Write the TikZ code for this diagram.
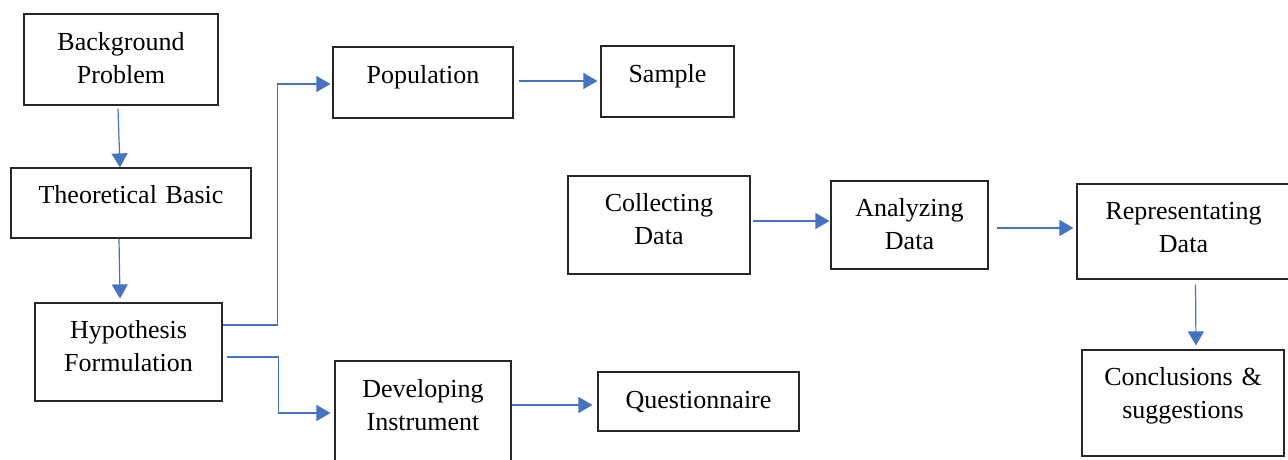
\documentclass[tikz,border=0pt]{standalone}
\usepackage{fontspec}
\setmainfont{Liberation Serif}
\usepackage{tikz}
\usetikzlibrary{arrows.meta}
\definecolor{flowblue}{HTML}{4472C4}
\definecolor{boxgray}{HTML}{262626}

\begin{document}
\begin{tikzpicture}[
    x=1pt, y=-1pt,
    block/.style={draw=boxgray, line width=1.2pt, inner sep=0pt, anchor=base, align=center, font=\fontsize{26}{33}\selectfont},
    arrow/.style={-{Triangle[length=14pt, width=16pt]}, draw=flowblue, line width=1.2pt}
]
    \useasboundingbox (0,0) rectangle (1288,459);

    % left column
    \node[block, text width=194pt, text height=36pt, text depth=55pt] (bg) at (121,50) {Background\\Problem};
    \node[block, text width=240pt, text height=35pt, text depth=35pt] (theory) at (131,203) {Theoretical Basic};
    \node[block, text width=187pt, text height=35pt, text depth=63pt] (hypo) at (128.5,338) {Hypothesis\\Formulation};

    % population / instrument
    \node[block, text width=180pt, text height=36pt, text depth=35pt] (pop) at (423,83) {Population};
    \node[block, text width=133pt, text height=36pt, text depth=35pt] (sample) at (667.5,82) {Sample};
    \node[block, text width=176pt, text height=36pt, text depth=68pt] (instr) at (423,397) {Developing\\Instrument};
    \node[block, text width=201pt, text height=36pt, text depth=23pt] (quest) at (698.5,408) {Questionnaire};

    % data handling
    \node[block, text width=182pt, text height=35pt, text depth=63pt] (collect) at (659,211) {Collecting\\Data};
    \node[block, text width=157pt, text height=35pt, text depth=53pt] (analyze) at (909.5,216) {Analyzing\\Data};
    \node[block, text width=213pt, text height=35pt, text depth=60pt] (repr) at (1183.5,219) {Representating\\Data};
    \node[block, text width=202pt, text height=35pt, text depth=71pt] (concl) at (1183,385) {Conclusions \&\\suggestions};

    \draw[arrow] ([xshift=-3pt,yshift=-3pt]bg.south) -- ([xshift=-11pt]theory.north);
    \draw[arrow] ([xshift=-12pt]theory.south) -- ([xshift=-8.5pt,yshift=4pt]hypo.north);
    \draw[arrow] ([yshift=27pt]hypo.east) -- ++(55,0) |- ([xshift=-2pt,yshift=-1.5pt]pop.west);
    \draw[arrow] ([xshift=4pt,yshift=-5pt]hypo.east) -- ++(52,0) |- ([xshift=-4pt]instr.west);
    \draw[arrow] ([xshift=5pt,yshift=1.5pt]pop.east) -- ([xshift=-3pt,yshift=1.5pt]pop.east -| sample.west);
    \draw[arrow] ([yshift=8pt]instr.east) -- ([xshift=-5pt,yshift=8pt]instr.east -| quest.west);
    \draw[arrow] ([xshift=2pt,yshift=4pt]collect.east) -- ([xshift=-1pt,yshift=4pt]collect.east -| analyze.west);
    \draw[arrow] ([xshift=8pt,yshift=-3pt]analyze.east) -- ([xshift=-3pt,yshift=-3pt]analyze.east -| repr.west);
    \draw[arrow] ([xshift=12pt,yshift=-5pt]repr.south) -- ([xshift=13pt,yshift=4pt]concl.north);
\end{tikzpicture}
\end{document}
